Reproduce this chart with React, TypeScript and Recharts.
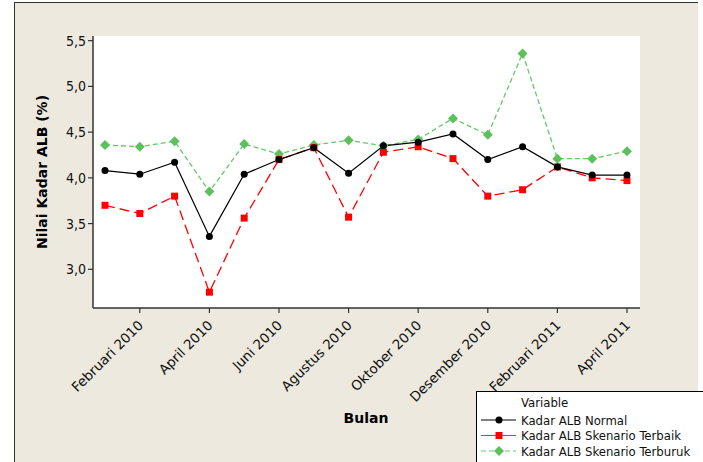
import React from 'react';
import { LineChart, Line, XAxis, YAxis, CartesianGrid } from 'recharts';

// Monthly ALB levels, Januari 2010 .. April 2011
const months = [
  'Januari 2010', 'Februari 2010', 'Maret 2010', 'April 2010', 'Mei 2010', 'Juni 2010',
  'Juli 2010', 'Agustus 2010', 'September 2010', 'Oktober 2010', 'November 2010',
  'Desember 2010', 'Januari 2011', 'Februari 2011', 'Maret 2011', 'April 2011',
];
const normal = [4.08, 4.04, 4.17, 3.36, 4.04, 4.2, 4.33, 4.05, 4.35, 4.39, 4.48, 4.2, 4.34, 4.12, 4.03, 4.03];
const terbaik = [3.7, 3.61, 3.8, 2.75, 3.56, 4.2, 4.33, 3.57, 4.28, 4.34, 4.21, 3.8, 3.87, 4.12, 4.0, 3.97];
const terburuk = [4.36, 4.34, 4.4, 3.85, 4.37, 4.26, 4.36, 4.41, 4.35, 4.42, 4.65, 4.47, 5.36, 4.21, 4.21, 4.29];

const xTicks = [1, 3, 5, 7, 9, 11, 13, 15];
const yTicks = [3.0, 3.5, 4.0, 4.5, 5.0, 5.5];

const data = months.map((m, i) => ({
  idx: i,
  month: m,
  normal: normal[i],
  terbaik: terbaik[i],
  terburuk: terburuk[i],
}));

const FONT = "'DejaVu Sans', sans-serif";
const COND = "'DejaVu Sans Condensed', 'DejaVu Sans', sans-serif";
const BG = '#EDE9DF';
const GREEN_LINE = '#66C766';
const GREEN_MARK = '#5CC05C';
const RED = '#FF0000';

const fmt = (v: number) => v.toFixed(1).replace('.', ',');

const MonthTick = (props: any) => {
  const { x, y, payload } = props;
  return (
    <g transform={`translate(${x - 3},${y + 4})`}>
      <text
        textAnchor="end"
        transform="rotate(-45)"
        dy="0.75em"
        fontSize={13.5}
        fontFamily={FONT}
        fill="#111"
      >
        {months[payload.value]}
      </text>
    </g>
  );
};

const SquareDot = (props: any) => {
  const { cx, cy, index } = props;
  if (cx == null || cy == null) return null;
  return <rect key={`sq-${index}`} x={cx - 3.5} y={cy - 3.5} width={7} height={7} fill={RED} />;
};

const DiamondDot = (props: any) => {
  const { cx, cy, index } = props;
  if (cx == null || cy == null) return null;
  return (
    <polygon
      key={`dm-${index}`}
      points={`${cx},${cy - 5} ${cx + 5},${cy} ${cx},${cy + 5} ${cx - 5},${cy}`}
      fill={GREEN_MARK}
    />
  );
};

const legendItems = [
  { label: 'Kadar ALB Normal', color: '#000', dash: undefined, shape: 'circle' },
  { label: 'Kadar ALB Skenario Terbaik', color: '#FF3030', dash: undefined, shape: 'square' },
  { label: 'Kadar ALB Skenario Terburuk', color: GREEN_LINE, dash: '5 3', shape: 'diamond' },
];

const LegendBox = () => (
  <svg
    width={230}
    height={75}
    style={{ position: 'absolute', left: 476, top: 391 }}
  >
    <rect x={0.5} y={0.5} width={240} height={80} fill="#fff" stroke="#000" />
    <text x={45} y={16} fontSize={13} fontFamily={COND} fill="#111">Variable</text>
    {legendItems.map((it, i) => {
      const cy = 29 + i * 15.5;
      const cx = 23;
      return (
        <g key={it.label}>
          <line x1={5} x2={40} y1={cy} y2={cy} stroke={it.color} strokeWidth={1.2} strokeDasharray={it.dash} />
          {it.shape === 'circle' && <circle cx={cx} cy={cy} r={3.5} fill="#000" />}
          {it.shape === 'square' && <rect x={cx - 3.5} y={cy - 3.5} width={7} height={7} fill={RED} />}
          {it.shape === 'diamond' && (
            <polygon points={`${cx},${cy - 5} ${cx + 5},${cy} ${cx},${cy + 5} ${cx - 5},${cy}`} fill={GREEN_MARK} />
          )}
          <text x={45} y={cy + 4.5} fontSize={13} fontFamily={COND} fill="#111">{it.label}</text>
        </g>
      );
    })}
  </svg>
);

export default function App() {
  return (
    <div style={{ position: 'absolute', left: 0, top: 0, width: 703, height: 462, background: '#fff', overflow: 'hidden' }}>
      <div
        style={{
          position: 'absolute',
          left: 14,
          top: 2,
          width: 684,
          height: 460,
          background: BG,
          borderLeft: '1.5px solid #333',
          borderTop: '1.5px solid #333',
          boxSizing: 'border-box',
        }}
      />
      <div style={{ position: 'absolute', left: 0, top: 0 }}>
        <LineChart width={703} height={462} data={data} margin={{ top: 36, right: 63, bottom: 54, left: 33 }}>
          <CartesianGrid fill="#fff" horizontal={false} vertical={false} />
          <XAxis
            xAxisId="main"
            dataKey="idx"
            type="number"
            domain={[-0.345, 15.374]}
            ticks={xTicks}
            allowDataOverflow
            height={100}
            tick={<MonthTick />}
            tickSize={5}
            axisLine={{ stroke: '#333', strokeWidth: 1.5 }}
            tickLine={{ stroke: '#333', strokeWidth: 1.2 }}
            interval={0}
          />
          <XAxis
            xAxisId="top"
            orientation="top"
            dataKey="idx"
            type="number"
            domain={[-0.345, 15.374]}
            height={0}
            tick={false}
            tickLine={false}
            axisLine={{ stroke: '#333', strokeWidth: 1.5 }}
          />
          <YAxis
            yAxisId="main"
            type="number"
            domain={[2.577, 5.551]}
            ticks={yTicks}
            allowDataOverflow
            width={60}
            tickFormatter={fmt}
            tickSize={5}
            tick={{ fontSize: 14, fontFamily: COND, fill: '#111' }}
            axisLine={{ stroke: '#333', strokeWidth: 1.5 }}
            tickLine={{ stroke: '#333', strokeWidth: 1.2 }}
            interval={0}
          />
          <YAxis
            yAxisId="right"
            orientation="right"
            type="number"
            domain={[2.577, 5.551]}
            width={0}
            tick={false}
            tickLine={false}
            axisLine={{ stroke: '#333', strokeWidth: 1.5 }}
          />
          <Line
            xAxisId="main"
            yAxisId="main"
            type="linear"
            dataKey="terburuk"
            stroke={GREEN_LINE}
            strokeWidth={1.3}
            strokeDasharray="5 3"
            dot={<DiamondDot />}
            isAnimationActive={false}
          />
          <Line
            xAxisId="main"
            yAxisId="main"
            type="linear"
            dataKey="terbaik"
            stroke={RED}
            strokeWidth={1.3}
            strokeDasharray="10 5"
            dot={<SquareDot />}
            isAnimationActive={false}
          />
          <Line
            xAxisId="main"
            yAxisId="main"
            type="linear"
            dataKey="normal"
            stroke="#000"
            strokeWidth={1.2}
            dot={{ r: 3.5, fill: '#000', stroke: 'none' }}
            isAnimationActive={false}
          />
        </LineChart>
      </div>
      <div
        style={{
          position: 'absolute',
          left: 42,
          top: 172,
          transform: 'translate(-50%, -50%) rotate(-90deg)',
          fontFamily: FONT,
          fontWeight: 'bold',
          fontSize: 14,
          whiteSpace: 'nowrap',
          color: '#000',
        }}
      >
        Nilai Kadar ALB (%)
      </div>
      <div
        style={{
          position: 'absolute',
          left: 366,
          top: 418,
          transform: 'translate(-50%, -50%)',
          fontFamily: FONT,
          fontWeight: 'bold',
          fontSize: 14,
          color: '#000',
        }}
      >
        Bulan
      </div>
      <LegendBox />
    </div>
  );
}
